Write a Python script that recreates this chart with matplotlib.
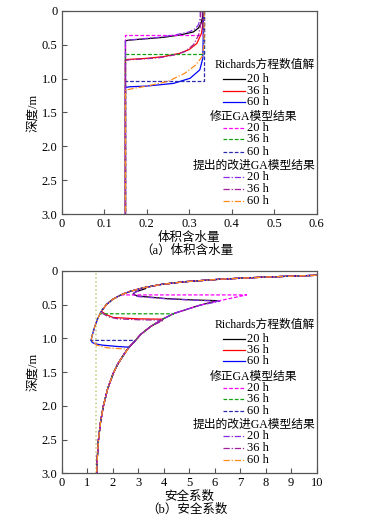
import matplotlib
matplotlib.use("Agg")
import matplotlib.pyplot as plt
import numpy as np

plt.rcParams['font.family'] = ['Liberation Serif', 'Noto Sans CJK SC']
plt.rcParams['font.size'] = 9
plt.rcParams['axes.unicode_minus'] = False

# ---------- (a) volumetric water content profiles ----------
rich20_theta = [0.333, 0.332, 0.328, 0.322, 0.310, 0.278, 0.239, 0.200, 0.160, 0.150, 0.150]
rich20_depth = [0.0, 0.08, 0.18, 0.25, 0.31, 0.355, 0.39, 0.41, 0.43, 0.44, 3.0]
rich36_theta = [0.333, 0.332, 0.329, 0.318, 0.300, 0.278, 0.239, 0.200, 0.160, 0.150, 0.150]
rich36_depth = [0.0, 0.20, 0.33, 0.48, 0.57, 0.625, 0.675, 0.70, 0.715, 0.72, 3.0]
rich60_theta = [0.333, 0.333, 0.332, 0.325, 0.302, 0.263, 0.200, 0.160, 0.150, 0.150]
rich60_depth = [0.0, 0.40, 0.70, 0.87, 0.995, 1.07, 1.11, 1.12, 1.13, 3.0]

mod_theta = [0.335, 0.335, 0.150, 0.150]
mod20_depth = [0.0, 0.355, 0.355, 3.0]
mod36_depth = [0.0, 0.635, 0.635, 3.0]
mod60_depth = [0.0, 1.03, 1.03, 3.0]

imp20_theta = [0.326, 0.326, 0.322, 0.315, 0.300, 0.270, 0.235, 0.200, 0.165, 0.150, 0.150]
imp20_depth = [0.0, 0.10, 0.20, 0.26, 0.31, 0.35, 0.385, 0.405, 0.425, 0.44, 3.0]
imp36_theta = [0.327, 0.327, 0.322, 0.310, 0.290, 0.265, 0.230, 0.190, 0.160, 0.150, 0.150]
imp36_depth = [0.0, 0.20, 0.36, 0.50, 0.60, 0.65, 0.69, 0.71, 0.72, 0.73, 3.0]
imp60_theta = [0.335, 0.335, 0.330, 0.315, 0.290, 0.250, 0.200, 0.165, 0.150, 0.150]
imp60_depth = [0.0, 0.50, 0.68, 0.80, 0.92, 1.04, 1.11, 1.15, 1.17, 3.0]

# ---------- (b) safety factor profiles ----------
# wetted (upper) envelope and dry (lower) envelope
wet_fs = [10.0, 8.0, 6.3, 4.8, 3.9, 3.2, 2.7, 2.35, 2.0, 1.75, 1.55, 1.42, 1.30, 1.20, 1.15]
wet_depth = [0.064, 0.09, 0.12, 0.16, 0.20, 0.25, 0.30, 0.35, 0.42, 0.50, 0.60, 0.70, 0.82, 0.95, 1.03]
dry_fs = [7.25, 6.2, 5.4, 4.4, 3.98, 3.5, 3.1, 2.87, 2.62, 2.4, 2.2, 2.02, 1.8, 1.63, 1.52, 1.44, 1.40, 1.37]
dry_depth = [0.355, 0.44, 0.51, 0.63, 0.71, 0.82, 0.94, 1.04, 1.14, 1.26, 1.38, 1.52, 1.75, 2.01, 2.25, 2.51, 2.75, 3.0]

# front transitions: (fs, depth) points, wet used above first depth, dry below last depth
rich20_front = ([3.3, 2.9, 2.8, 2.95, 4.1, 5.2, 6.1], [0.26, 0.31, 0.34, 0.37, 0.41, 0.43, 0.44])
rich36_front = ([1.6, 1.76, 2.02, 3.0, 3.98], [0.61, 0.65, 0.69, 0.71, 0.715])
rich60_front = ([1.2, 1.31, 1.6, 2.2, 2.65], [1.06, 1.08, 1.10, 1.12, 1.13])
mod20_front = ([2.33, 7.25], [0.355, 0.355])
mod36_front = ([1.50, 4.40], [0.635, 0.635])
mod60_front = ([1.15, 2.87], [1.03, 1.03])
imp20_front = ([3.2, 2.85, 2.8, 3.0, 4.2, 5.3, 6.2], [0.27, 0.32, 0.35, 0.38, 0.415, 0.435, 0.45])
imp36_front = ([1.65, 1.85, 2.2, 3.1, 4.0], [0.64, 0.68, 0.71, 0.725, 0.73])
imp60_front = ([1.25, 1.37, 1.8, 2.6], [1.05, 1.10, 1.14, 1.16])

fs_limit = 1.35

labels = ['20 h', '36 h', '60 h']
rich_style = [dict(color='#000000', ls='-'), dict(color='#ff0000', ls='-'), dict(color='#0000ff', ls='-')]
mod_style = [dict(color='#ff00ff', ls=(0, (3, 1.5))), dict(color='#10a010', ls=(0, (3, 1.5))),
             dict(color='#2a2ab0', ls=(0, (3, 1.5)))]
imp_style = [dict(color='#8a2be2', ls=(0, (5, 1.5, 1, 1.5))), dict(color='#a0209a', ls=(0, (5, 1.5, 1, 1.5))),
             dict(color='#ff8c1a', ls=(0, (5, 1.5, 1, 1.5)))]
lw = 0.9


def fs_curve(front):
    f_fs, f_d = front
    xs = [x for x, d in zip(wet_fs, wet_depth) if d < f_d[0]] + list(f_fs)
    ys = [d for d in wet_depth if d < f_d[0]] + list(f_d)
    xs += [x for x, d in zip(dry_fs, dry_depth) if d > f_d[-1]]
    ys += [d for d in dry_depth if d > f_d[-1]]
    return xs, ys


fig = plt.figure(figsize=(3.73, 5.22), dpi=100)
ax1 = fig.add_axes([0.1654, 0.590, 0.6836, 0.389])
ax2 = fig.add_axes([0.1654, 0.0933, 0.6836, 0.3876])

# panel a
for th, d, st in zip([rich20_theta, rich36_theta, rich60_theta], [rich20_depth, rich36_depth, rich60_depth], rich_style):
    ax1.plot(th, d, lw=lw, **st)
for d, st in zip([mod20_depth, mod36_depth, mod60_depth], mod_style):
    ax1.plot(mod_theta, d, lw=lw, **st)
for th, d, st in zip([imp20_theta, imp36_theta, imp60_theta], [imp20_depth, imp36_depth, imp60_depth], imp_style):
    ax1.plot(th, d, lw=lw, **st)

# panel b
ax2.axvline(fs_limit, color='#c8c87a', ls=':', lw=1.1)
for fr, st in zip([rich20_front, rich36_front, rich60_front], rich_style):
    x, y = fs_curve(fr)
    ax2.plot(x, y, lw=lw, **st)
for fr, st in zip([mod20_front, mod36_front, mod60_front], mod_style):
    x, y = fs_curve(fr)
    ax2.plot(x, y, lw=lw, **st)
for fr, st in zip([imp20_front, imp36_front, imp60_front], imp_style):
    x, y = fs_curve(fr)
    ax2.plot(x, y, lw=lw, **st)

ax1.set_xlim(0, 0.6)
ax1.set_xticks(np.arange(0, 0.61, 0.1))
ax1.set_xticklabels(['0', '0.1', '0.2', '0.3', '0.4', '0.5', '0.6'])
ax2.set_xlim(0, 10)
ax2.set_xticks(range(0, 11))

for ax in (ax1, ax2):
    ax.set_ylim(3.0, 0)
    ax.set_yticks([0, 0.5, 1.0, 1.5, 2.0, 2.5, 3.0])
    ax.set_yticklabels(['0', '0.5', '1.0', '1.5', '2.0', '2.5', '3.0'])
    ax.tick_params(direction='in', length=3.5, width=0.8, color='#555555', pad=3)
    for s in ax.spines.values():
        s.set_color('#555555')
        s.set_linewidth(0.9)
    ax.set_ylabel('深度/m', labelpad=2)

    # legend drawn by hand: three groups with titles
    ty = [0.734, 0.476, 0.238]
    tx = [0.993, 0.925, 0.993]
    titles = ['Richards方程数值解', '修正GA模型结果', '提出的改进GA模型结果']
    rows = [[0.664, 0.607, 0.553], [0.422, 0.368, 0.307], [0.184, 0.123, 0.064]]
    for g, styles in enumerate([rich_style, mod_style, imp_style]):
        ax.text(tx[g], ty[g], titles[g], transform=ax.transAxes, ha='right', va='center', fontsize=8.5)
        for r, st in enumerate(styles):
            ax.plot([0.634, 0.719], [rows[g][r], rows[g][r]], transform=ax.transAxes, lw=lw, **st)
            ax.text(0.725, rows[g][r], labels[r], transform=ax.transAxes, ha='left', va='center')

ax1.set_xlabel('体积含水量', labelpad=1)
ax2.set_xlabel('安全系数', labelpad=1)
fig.text(0.5, 1 - 250.5 / 522, '（a）体积含水量', ha='center', va='center')
fig.text(0.5, 1 - 509.5 / 522, '（b）安全系数', ha='center', va='center')

fig.savefig('out.png', dpi=100)
